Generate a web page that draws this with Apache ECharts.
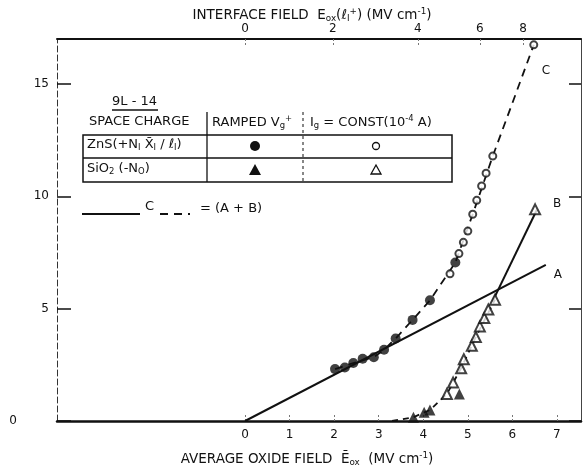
<!DOCTYPE html>
<html>
<head>
<meta charset="utf-8">
<script src="https://cdn.jsdelivr.net/npm/echarts@6/dist/echarts.min.js"></script>
<style>
  html, body { margin: 0; padding: 0; background: #fff; }
  #chart { width: 583px; height: 475px; }
</style>
</head>
<body>
<div id="chart"></div>
<script>
// Space charge in ZnS (circles) and SiO2 (triangles) versus average oxide field
// Ramped gate voltage (filled symbols)
const rampedZnS = [[2.02, 2.31], [2.24, 2.38], [2.43, 2.58], [2.64, 2.77], [2.89, 2.84],
                   [3.12, 3.17], [3.38, 3.67], [3.76, 4.50], [4.15, 5.37], [4.72, 7.05]];
const rampedSiO2 = [[3.78, 0.17], [4.02, 0.39], [4.15, 0.49], [4.81, 1.20]];
// Constant gate current (open symbols)
const constZnS = [[4.60, 6.55], [4.80, 7.45], [4.90, 7.95], [5.00, 8.45], [5.11, 9.20],
                  [5.20, 9.82], [5.31, 10.46], [5.41, 11.03], [5.56, 11.79], [6.48, 16.74]];
const constSiO2 = [[4.53, 1.20], [4.67, 1.71], [4.85, 2.35], [4.91, 2.75], [5.09, 3.35],
                   [5.18, 3.74], [5.27, 4.21], [5.37, 4.58], [5.46, 4.96], [5.61, 5.40], [6.51, 9.42]];
// Component lines A and B, and their sum C
const lineA = [[0, 0], [6.75, 6.95]];
const lineB = [[5.55, 5.30], [6.55, 9.40]];
const curveB = [[3.30, 0.00], [3.78, 0.17], [4.15, 0.49], [4.53, 1.20], [4.85, 2.35],
                [5.18, 3.74], [5.61, 5.40]];
const curveC = [[2.02, 2.31], [2.43, 2.58], [2.89, 2.84], [3.12, 3.17], [3.38, 3.67],
                [3.76, 4.50], [4.15, 5.37], [4.72, 7.05], [5.11, 9.20], [5.56, 11.79],
                [6.00, 14.15], [6.48, 16.74]];

// Axis ticks
const bottomTicks = [0, 1, 2, 3, 4, 5, 6, 7];
const yTicks = [0, 5, 10, 15];
// Interface field tick labels and where they fall on the average-field scale
const topTickLabels = [0, 2, 4, 6, 8];
const topTickPos = [0, 1.97, 3.88, 5.27, 6.24];

const FONT = 'DejaVu Sans';
const INK = '#111';

const chart = echarts.init(document.getElementById('chart'), null, { renderer: 'canvas' });

// Rich text styles for table and axis titles
function richSet(size) {
  return {
    t: { fontFamily: FONT, fontSize: size, color: INK },
    sub: { fontFamily: FONT, fontSize: size * 0.65, color: INK, padding: [7, 0, 0, 0] },
    sup: { fontFamily: FONT, fontSize: size * 0.65, color: INK, padding: [0, 0, 7, 0] }
  };
}
const tableRich = richSet(13);
const titleRich = richSet(13.5);

function txt(x, y, rich) {
  return {
    type: 'text', left: x, top: y,
    style: { text: rich, rich: tableRich, fontFamily: FONT, fontSize: 13, fill: INK }
  };
}

const option = {
  backgroundColor: '#fff',
  animation: false,
  grid: { left: 57, right: 2, top: 39, bottom: 54, containLabel: false, outerBoundsMode: 'none' },
  xAxis: [
    {
      type: 'value', position: 'bottom', min: -4.22, max: 7.54,
      axisLine: { onZero: false, lineStyle: { color: INK, width: 2.5 } },
      axisTick: { customValues: bottomTicks, inside: true, length: 8, lineStyle: { color: '#777', width: 1, type: [2, 2] } },
      axisLabel: { customValues: bottomTicks, color: INK, fontFamily: FONT, fontSize: 12, margin: 8 },
      splitLine: { show: false },
      name: '{t|AVERAGE OXIDE FIELD  Ē}{sub|ox}{t|  (MV cm}{sup|-1}{t|)}',
      nameLocation: 'middle', nameGap: 30,
      nameTextStyle: { rich: titleRich, padding: [0, 24, 0, 0] }
    },
    {
      type: 'value', position: 'top', min: -4.22, max: 7.54,
      axisLine: { onZero: false, lineStyle: { color: INK, width: 2 } },
      axisTick: { customValues: topTickPos, inside: true, length: 8, lineStyle: { color: '#777', width: 1, type: [2, 2] } },
      axisLabel: {
        customValues: topTickPos, color: INK, fontFamily: FONT, fontSize: 12, margin: 4,
        formatter: function (v) {
          const i = topTickPos.findIndex(function (p) { return Math.abs(p - v) < 1e-6; });
          return i >= 0 ? String(topTickLabels[i]) : '';
        }
      },
      splitLine: { show: false },
      name: '{t|INTERFACE FIELD  E}{sub|ox}{t|(ℓ}{sub|I}{sup|+}{t|) (MV cm}{sup|-1}{t|)}',
      nameLocation: 'middle', nameGap: 16, nameMoveOverlap: false,
      nameTextStyle: { rich: titleRich, padding: [0, 14, 0, 0] }
    }
  ],
  yAxis: [
    {
      type: 'value', position: 'left', min: 0, max: 17,
      axisLine: { show: true, onZero: false, lineStyle: { color: '#333', width: 1, type: [6, 3] } },
      axisTick: { customValues: yTicks, inside: true, length: 14, lineStyle: { color: INK, width: 1.5 } },
      axisLabel: {
        customValues: yTicks, color: INK, fontFamily: FONT, fontSize: 12, margin: 8,
        formatter: function (v) { return v === 0 ? '{z|0}' : String(v); },
        rich: { z: { fontFamily: FONT, fontSize: 12, color: INK, padding: [0, 32, 0, 0] } }
      },
      splitLine: { show: false },
      name: '{t|AREAL SPACE CHARGE DENSITY (10}{sup|12}{t| cm}{sup|-2}{t|)}',
      nameLocation: 'middle', nameGap: 31, nameRotate: 90,
      nameTextStyle: { rich: titleRich, padding: [0, 0, 30, 0] }
    },
    {
      type: 'value', position: 'right', min: 0, max: 17,
      axisLine: { show: true, onZero: false, lineStyle: { color: '#444', width: 1 } },
      axisTick: { customValues: yTicks, inside: true, length: 12, lineStyle: { color: INK, width: 1.5 } },
      axisLabel: { show: false },
      splitLine: { show: false }
    }
  ],
  series: [
    {
      name: 'A', type: 'line', data: lineA, showSymbol: false, symbol: 'none',
      lineStyle: { color: INK, width: 2 },
      endLabel: { show: true, formatter: 'A', color: INK, fontFamily: FONT, fontSize: 12, offset: [0, 10] },
      z: 2
    },
    {
      name: 'B', type: 'line', data: lineB, showSymbol: false, symbol: 'none',
      lineStyle: { color: INK, width: 2 },
      endLabel: { show: true, formatter: 'B', color: INK, fontFamily: FONT, fontSize: 12, offset: [8, -6] },
      z: 2
    },
    {
      name: 'C', type: 'line', data: curveC, showSymbol: false, symbol: 'none',
      lineStyle: { color: INK, width: 1.8, type: [8, 6] },
      endLabel: { show: true, formatter: 'C', color: INK, fontFamily: FONT, fontSize: 12, offset: [0, 26] },
      z: 2
    },
    {
      name: 'B trend', type: 'line', data: curveB, showSymbol: false, symbol: 'none',
      lineStyle: { color: INK, width: 1.8, type: [6, 5] },
      z: 2
    },
    {
      name: 'ZnS ramped', type: 'scatter', data: rampedZnS, symbol: 'circle', symbolSize: 10,
      itemStyle: { color: INK }, z: 4
    },
    {
      name: 'ZnS constant current', type: 'scatter', data: constZnS, symbol: 'emptyCircle', symbolSize: 7,
      itemStyle: { color: INK, borderWidth: 1.3 }, z: 4
    },
    {
      name: 'SiO2 ramped', type: 'scatter', data: rampedSiO2, symbol: 'triangle', symbolSize: 11,
      itemStyle: { color: INK }, z: 4
    },
    {
      name: 'SiO2 constant current', type: 'scatter', data: constSiO2, symbol: 'emptyTriangle', symbolSize: 10,
      itemStyle: { color: INK, borderWidth: 1.3 }, z: 4
    }
  ],
  graphic: [
    // Sample name
    txt(112, 95, '{t|9L - 14}'),
    { type: 'line', shape: { x1: 112, y1: 110, x2: 158, y2: 110 }, style: { stroke: INK, lineWidth: 1.5 } },
    // Table header
    txt(89, 115, '{t|SPACE CHARGE}'),
    txt(212, 115, '{t|RAMPED V}{sub|g}{sup|+}'),
    txt(310, 115, '{t|I}{sub|g}{t| = CONST(10}{sup|-4}{t| A)}'),
    // Table frame
    { type: 'rect', shape: { x: 83, y: 135, width: 369, height: 47 }, style: { fill: 'none', stroke: INK, lineWidth: 1.5 } },
    { type: 'line', shape: { x1: 83, y1: 158, x2: 452, y2: 158 }, style: { stroke: INK, lineWidth: 1.5 } },
    { type: 'line', shape: { x1: 207, y1: 112, x2: 207, y2: 182 }, style: { stroke: INK, lineWidth: 1.3 } },
    { type: 'line', shape: { x1: 303, y1: 112, x2: 303, y2: 182 }, style: { stroke: INK, lineWidth: 1, lineDash: [3, 3] } },
    // Table rows
    txt(87, 138, '{t|ZnS(+N}{sub|I}{t| X̄}{sub|I}{t| / ℓ}{sub|I}{t|)}'),
    txt(87, 162, '{t|SiO}{sub|2}{t| (-N}{sub|O}{t|)}'),
    { type: 'circle', shape: { cx: 255, cy: 146, r: 5 }, style: { fill: INK } },
    { type: 'circle', shape: { cx: 376, cy: 146, r: 3.5 }, style: { fill: '#fff', stroke: INK, lineWidth: 1.3 } },
    { type: 'polygon', shape: { points: [[255, 164], [249, 175], [261, 175]] }, style: { fill: INK } },
    { type: 'polygon', shape: { points: [[376, 165], [371, 174], [381, 174]] }, style: { fill: '#fff', stroke: INK, lineWidth: 1.3 } },
    // Sum line key
    { type: 'line', shape: { x1: 82, y1: 214, x2: 140, y2: 214 }, style: { stroke: INK, lineWidth: 2 } },
    txt(145, 200, '{t|C}'),
    { type: 'line', shape: { x1: 160, y1: 214, x2: 190, y2: 214 }, style: { stroke: INK, lineWidth: 2, lineDash: [8, 6] } },
    txt(200, 202, '{t|= (A + B)}')
  ]
};

chart.setOption(option);
</script>
</body>
</html>
